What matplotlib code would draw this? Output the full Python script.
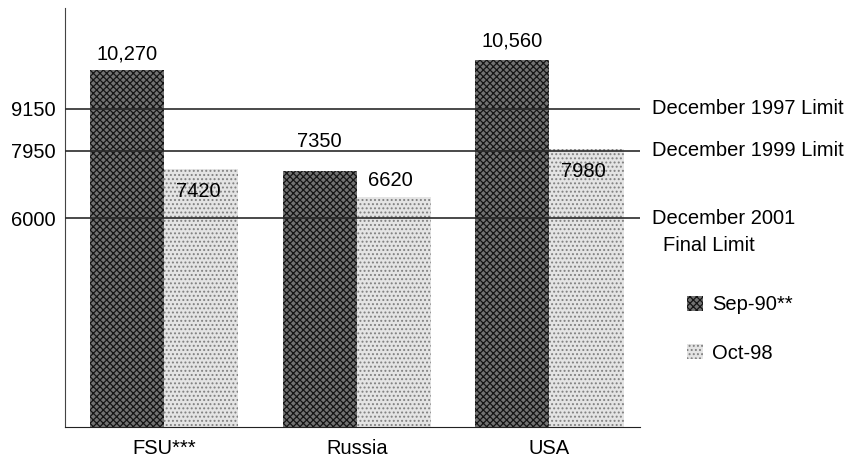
import numpy as np
import matplotlib
matplotlib.use('Agg')
import matplotlib.pyplot as plt

plt.rcParams['font.family'] = ['Liberation Sans', 'DejaVu Sans']
plt.rcParams['hatch.linewidth'] = 0.9

# data
countries = ['FSU***', 'Russia', 'USA']
sep90 = [10270, 7350, 10560]
oct98 = [7420, 6620, 7980]
limits = [9150, 7950, 6000]
limit_names = ['December 1997 Limit', 'December 1999 Limit', 'December 2001']

fig = plt.figure(figsize=(8.48, 4.58), dpi=100)
ax = fig.add_axes([0.0767, 0.0677, 0.678, 0.915])

x = np.arange(len(countries))
w = 0.385
fs = 14.5

# bars: dark crosshatch for Sep-90, light stipple for Oct-98
ax.bar(x - w/2, sep90, w, color='#727272', edgecolor='#151515', hatch='xxxxx',
       linewidth=0, label='Sep-90**', zorder=2)
ax.bar(x + w/2, oct98, w, color='#e4e4e4', edgecolor='#808080', hatch='....',
       linewidth=0, label='Oct-98', zorder=2)

# value labels (offset in pixels from the bar top)
dark_off = [16, 30, 19]
light_off = [-23, 16, -22]
def fmt(v):
    return f'{v:,}' if v >= 10000 else str(v)
for i in range(len(countries)):
    ax.annotate(fmt(sep90[i]), (x[i] - w/2, sep90[i]), xytext=(0, dark_off[i]),
                textcoords='offset pixels', ha='center', va='center', fontsize=fs)
    ax.annotate(fmt(oct98[i]), (x[i] + w/2, oct98[i]), xytext=(-3, light_off[i]),
                textcoords='offset pixels', ha='center', va='center', fontsize=fs)

# limit lines and their names on the right
for v, name in zip(limits, limit_names):
    ax.axhline(v, color='#2a2a2a', linewidth=1.2, zorder=3)
    ax.text(1.021, v, name, transform=ax.get_yaxis_transform(), ha='left',
            va='center', fontsize=fs, clip_on=False)
ax.annotate('Final Limit', (1.021, limits[2]), xycoords=ax.get_yaxis_transform(),
            xytext=(11, -27), textcoords='offset pixels', ha='left', va='center',
            fontsize=fs)

ax.set_xlim(-0.514, 2.47)
ax.set_ylim(0, 12050)
ax.set_xticks(x)
ax.set_xticklabels(countries, fontsize=fs)
ax.set_yticks(limits)
ax.set_yticklabels([str(v) for v in limits], fontsize=fs)
ax.tick_params(axis='both', length=0)
ax.tick_params(axis='x', pad=9)
ax.tick_params(axis='y', pad=7)

ax.spines['top'].set_visible(False)
ax.spines['right'].set_visible(False)
ax.spines['left'].set_color('#444444')
ax.spines['bottom'].set_color('#222222')

ax.legend(loc='center left', bbox_to_anchor=(1.064, 0.234), frameon=False,
          fontsize=fs, borderpad=0, handlelength=0.8, handleheight=0.8,
          handletextpad=0.45, labelspacing=1.45)

plt.savefig('out.png', dpi=100)
